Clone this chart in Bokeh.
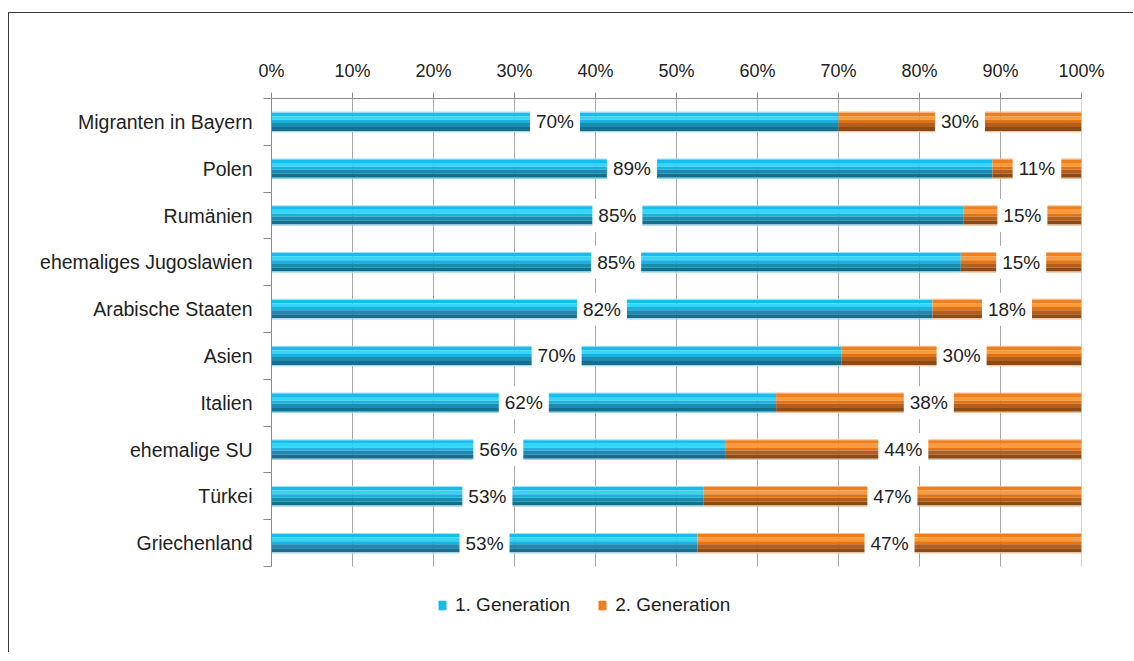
from bokeh.plotting import figure
from bokeh.models import (ColumnDataSource, Range1d, FixedTicker, Legend, LegendItem)
from bokeh.core.properties import value
from bokeh.embed import file_html
from bokeh.resources import INLINE

# ---- data ----
categories = ["Migranten in Bayern", "Polen", "Rumänien", "ehemaliges Jugoslawien",
              "Arabische Staaten", "Asien", "Italien", "ehemalige SU", "Türkei",
              "Griechenland"]
gen1 = [70.0, 89.0, 85.4, 85.1, 81.6, 70.4, 62.3, 56.0, 53.3, 52.6]
gen2 = [30.0, 11.0, 14.6, 14.9, 18.4, 29.6, 37.7, 44.0, 46.7, 47.4]
series_names = ["1. Generation", "2. Generation"]
x_ticks = [0, 10, 20, 30, 40, 50, 60, 70, 80, 90, 100]
x_tick_labels = ["0%", "10%", "20%", "30%", "40%", "50%", "60%", "70%", "80%", "90%", "100%"]

FONT = "Liberation Sans"
n = len(categories)
H = 0.44
EXTRA = 1.6  # room below the bars for the legend

blue_bands = [(0.00, 0.05, "#9ee2f5"), (0.05, 0.22, "#16bcec"), (0.22, 0.40, "#36d4f8"),
              (0.40, 0.55, "#1bb0de"), (0.55, 0.75, "#1a8cb2"), (0.75, 0.94, "#176f90"),
              (0.94, 1.00, "#9ad6ec")]
orange_bands = [(0.00, 0.05, "#f8bd8a"), (0.05, 0.22, "#f07d1e"), (0.22, 0.40, "#fb9a3a"),
                (0.40, 0.55, "#e27418"), (0.55, 0.75, "#b35e1b"), (0.75, 0.94, "#8c4a17"),
                (0.94, 1.00, "#f2c096")]

p = figure(width=1125, height=640, output_backend="svg", toolbar_location=None,
           x_range=Range1d(0, 100), y_range=Range1d(n + EXTRA, 0), x_axis_location="above",
           min_border_left=262, min_border_right=53, min_border_top=85, min_border_bottom=12)
p.styles = {"margin-left": "8px", "margin-top": "12px",
            "border-top": "1px solid #3a3a3a", "border-left": "1px solid #3a3a3a"}
p.outline_line_color = None
p.background_fill_color = "white"
p.border_fill_color = "white"

# axes
xa = p.xaxis[0]
xa.ticker = FixedTicker(ticks=x_ticks, minor_ticks=[])
xa.major_label_overrides = {t: l for t, l in zip(x_ticks, x_tick_labels)}
xa.axis_line_color = "#8a8a8a"
xa.major_tick_line_color = "#8a8a8a"
xa.major_tick_out = 6
xa.major_tick_in = 0
xa.minor_tick_line_color = None
xa.major_label_standoff = 12
xa.major_label_text_font = FONT
xa.major_label_text_font_size = "18px"
xa.major_label_text_color = "#222222"

ya = p.yaxis[0]
centers = [i + 0.5 for i in range(n)]
ya.ticker = FixedTicker(ticks=centers, minor_ticks=list(range(n + 1)))
ya.bounds = (0, n)
ya.major_label_overrides = {c: name for c, name in zip(centers, categories)}
ya.axis_line_color = "#8a8a8a"
ya.major_tick_line_color = None
ya.major_tick_out = 0
ya.major_tick_in = 0
ya.minor_tick_line_color = "#8a8a8a"
ya.minor_tick_out = 8
ya.minor_tick_in = 0
ya.major_label_standoff = 11
ya.major_label_text_font = FONT
ya.major_label_text_font_size = "19.5px"
ya.major_label_text_color = "#222222"

p.xgrid.grid_line_color = None
p.ygrid.grid_line_color = None

# vertical gridlines, limited to the bar area
p.segment(x0=x_ticks, x1=x_ticks, y0=[0] * len(x_ticks), y1=[n] * len(x_ticks),
          line_color="#a8a8a8", line_width=1)

# bars
def draw_series(lefts, rights, bands, main_color):
    main = None
    for (t, b, col) in bands:
        src = ColumnDataSource(dict(
            left=lefts, right=rights,
            top=[i + 0.5 - H / 2 + t * H for i in range(n)],
            bottom=[i + 0.5 - H / 2 + b * H for i in range(n)]))
        r = p.quad(left="left", right="right", top="top", bottom="bottom", source=src,
                   fill_color=col, line_color=None)
        if col == main_color:
            main = r
    return main

r1 = draw_series([0] * n, gen1, blue_bands, "#16bcec")
r2 = draw_series(gen1, [a + b for a, b in zip(gen1, gen2)], orange_bands, "#f07d1e")

# data labels
lab_src = ColumnDataSource(dict(
    x=[v / 2 for v in gen1] + [a + b / 2 for a, b in zip(gen1, gen2)],
    y=centers + centers,
    text=[f"{round(v)}%" for v in gen1] + [f"{round(v)}%" for v in gen2]))
p.text(x="x", y="y", text="text", source=lab_src, text_align="center",
       text_baseline="middle", text_font=value(FONT), text_font_size="19px",
       text_color="#222222", background_fill_color="white", padding=6)

# legend
legend = Legend(items=[LegendItem(label=series_names[0], renderers=[r1]),
                       LegendItem(label=series_names[1], renderers=[r2])],
                location=(166, 25), orientation="horizontal",
                border_line_color=None, background_fill_alpha=0,
                label_text_font=FONT, label_text_font_size="19px",
                label_text_color="#222222", glyph_width=10, glyph_height=12,
                label_standoff=8, spacing=27, padding=0, margin=0, label_height=20)
p.add_layout(legend, "center")

open("out.html", "w").write(file_html(p, INLINE))
